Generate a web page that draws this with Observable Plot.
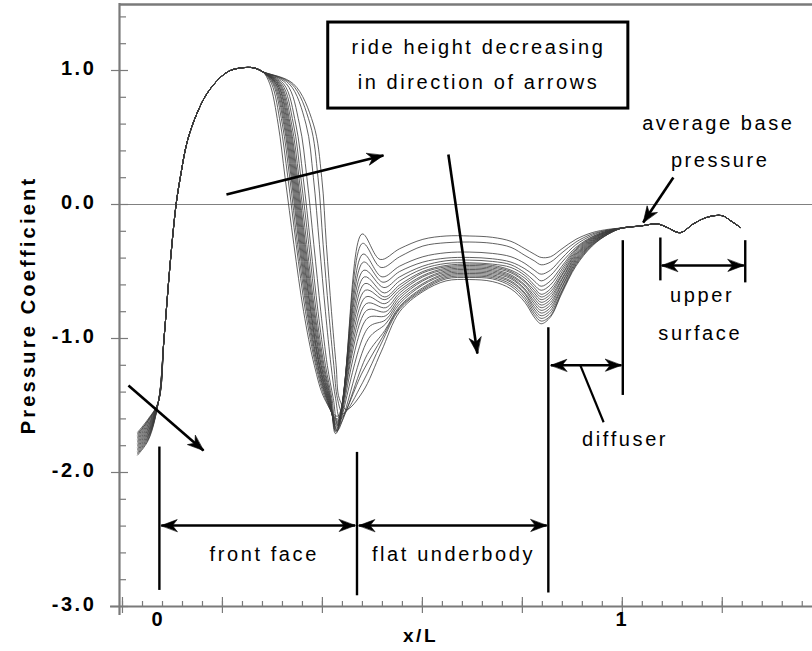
<!DOCTYPE html>
<html><head><meta charset="utf-8">
<script src="https://cdn.jsdelivr.net/npm/d3@7"></script>
<script src="https://cdn.jsdelivr.net/npm/@observablehq/plot@0.6"></script>
<style>html,body{margin:0;padding:0;background:#fff;overflow:hidden}</style>
</head><body><div id="chart"></div>
<script>
// ================= DATA =================
// 18 pressure distributions (ride height decreasing from id 1 to id 18)
const curveIds = [1,2,3,4,5,6,7,8,9,10,11,12,13,14,15,16,17,18];

// leading part of each curve (x/L)
const startX = [-0.045, -0.022];
const startCp = [
  [-1.70,-1.60],[-1.71,-1.61],[-1.72,-1.61],[-1.73,-1.62],[-1.74,-1.63],[-1.75,-1.64],
  [-1.76,-1.65],[-1.77,-1.66],[-1.78,-1.67],[-1.79,-1.68],[-1.80,-1.69],[-1.81,-1.70],
  [-1.82,-1.71],[-1.83,-1.72],[-1.84,-1.73],[-1.85,-1.74],[-1.86,-1.75],[-1.87,-1.76]
];

// front face (common to all ride heights)
const frontX  = [0.0, 0.012, 0.025, 0.038, 0.047, 0.062, 0.083, 0.105, 0.134, 0.155, 0.18, 0.205, 0.225];
const frontCp = [-1.47, -1.0, -0.45, 0.0, 0.2, 0.47, 0.68, 0.83, 0.95, 1.0, 1.02, 1.02, 0.99];

// descent of the front face: x/L at which each curve passes these Cp levels
const descentLevels = [0.9, 0.6, 0.2, -0.3, -0.8, -1.2, -1.45];
const descentX = [
  [0.240,0.258,0.273,0.292,0.313,0.336,0.358],
  [0.244,0.263,0.279,0.297,0.317,0.339,0.360],
  [0.247,0.267,0.283,0.300,0.320,0.341,0.362],
  [0.249,0.270,0.286,0.303,0.322,0.343,0.363],
  [0.251,0.272,0.288,0.305,0.324,0.344,0.364],
  [0.253,0.274,0.290,0.307,0.326,0.346,0.365],
  [0.254,0.276,0.292,0.309,0.328,0.347,0.366],
  [0.256,0.278,0.294,0.311,0.329,0.348,0.367],
  [0.257,0.280,0.296,0.313,0.331,0.350,0.368],
  [0.259,0.282,0.298,0.315,0.333,0.351,0.369],
  [0.261,0.284,0.300,0.317,0.335,0.353,0.370],
  [0.263,0.287,0.303,0.320,0.337,0.355,0.371],
  [0.266,0.291,0.307,0.324,0.340,0.357,0.372],
  [0.270,0.296,0.312,0.328,0.344,0.360,0.374],
  [0.276,0.304,0.320,0.335,0.350,0.364,0.377],
  [0.282,0.318,0.334,0.347,0.360,0.372,0.382],
  [0.287,0.327,0.344,0.355,0.367,0.378,0.386],
  [0.291,0.334,0.352,0.362,0.373,0.383,0.390]
];

// suction peak, bump and dip: [xMin, CpMin, xBump, CpBump, xDip, CpDip]
const troughBump = [
  [0.386,-1.58, 0.439,-0.22, 0.478,-0.41],
  [0.386,-1.60, 0.440,-0.29, 0.480,-0.47],
  [0.386,-1.61, 0.441,-0.37, 0.482,-0.54],
  [0.386,-1.62, 0.442,-0.43, 0.484,-0.58],
  [0.385,-1.63, 0.443,-0.49, 0.486,-0.62],
  [0.385,-1.64, 0.444,-0.54, 0.487,-0.66],
  [0.385,-1.65, 0.445,-0.59, 0.488,-0.69],
  [0.384,-1.66, 0.446,-0.64, 0.488,-0.71],
  [0.384,-1.67, 0.447,-0.69, 0.488,-0.74],
  [0.384,-1.68, 0.448,-0.74, 0.490,-0.77],
  [0.383,-1.69, 0.449,-0.79, 0.490,-0.80],
  [0.383,-1.70, 0.450,-0.85, 0.490,-0.83],
  [0.382,-1.71, 0.452,-0.92, 0.490,-0.86],
  [0.385,-1.69, 0.453,-1.00, 0.490,-0.89],
  [0.388,-1.65, 0.450,-1.12, 0.488,-0.94],
  [0.392,-1.60, 0.440,-1.25, 0.483,-0.99],
  [0.398,-1.56, 0.440,-1.33, 0.480,-1.04],
  [0.405,-1.53, 0.440,-1.40, 0.480,-1.10]
];

// flat underbody and diffuser
const flatX = [0.52, 0.57, 0.62, 0.67, 0.72, 0.76, 0.79, 0.81, 0.825, 0.845, 0.87, 0.90, 0.935, 0.97];
const flatCp = [
  [-0.33,-0.26,-0.235,-0.235,-0.245,-0.275,-0.33,-0.37,-0.395,-0.39,-0.33,-0.26,-0.21,-0.185],
  [-0.39,-0.31,-0.285,-0.28,-0.29,-0.32,-0.38,-0.42,-0.45,-0.43,-0.36,-0.28,-0.22,-0.19],
  [-0.46,-0.39,-0.36,-0.355,-0.365,-0.39,-0.44,-0.49,-0.52,-0.49,-0.40,-0.30,-0.23,-0.19],
  [-0.50,-0.43,-0.40,-0.395,-0.405,-0.43,-0.48,-0.53,-0.57,-0.53,-0.43,-0.32,-0.24,-0.195],
  [-0.54,-0.46,-0.42,-0.415,-0.425,-0.45,-0.51,-0.57,-0.61,-0.57,-0.46,-0.33,-0.245,-0.195],
  [-0.57,-0.48,-0.44,-0.435,-0.445,-0.47,-0.53,-0.60,-0.64,-0.60,-0.48,-0.34,-0.25,-0.20],
  [-0.60,-0.50,-0.455,-0.445,-0.455,-0.49,-0.55,-0.62,-0.67,-0.63,-0.50,-0.35,-0.255,-0.20],
  [-0.62,-0.51,-0.465,-0.455,-0.465,-0.50,-0.57,-0.64,-0.69,-0.65,-0.52,-0.36,-0.26,-0.20],
  [-0.64,-0.53,-0.475,-0.465,-0.475,-0.51,-0.58,-0.66,-0.71,-0.67,-0.53,-0.37,-0.265,-0.205],
  [-0.66,-0.54,-0.485,-0.475,-0.485,-0.525,-0.60,-0.68,-0.73,-0.69,-0.55,-0.38,-0.27,-0.205],
  [-0.68,-0.56,-0.495,-0.485,-0.495,-0.535,-0.61,-0.70,-0.75,-0.71,-0.56,-0.39,-0.275,-0.21],
  [-0.70,-0.57,-0.505,-0.495,-0.505,-0.545,-0.63,-0.72,-0.77,-0.73,-0.58,-0.40,-0.28,-0.21],
  [-0.72,-0.59,-0.515,-0.505,-0.515,-0.555,-0.64,-0.74,-0.79,-0.75,-0.59,-0.41,-0.285,-0.21],
  [-0.74,-0.60,-0.525,-0.515,-0.525,-0.57,-0.66,-0.76,-0.81,-0.77,-0.61,-0.42,-0.29,-0.215],
  [-0.76,-0.62,-0.535,-0.525,-0.535,-0.58,-0.67,-0.78,-0.83,-0.79,-0.62,-0.43,-0.295,-0.215],
  [-0.77,-0.63,-0.545,-0.535,-0.545,-0.595,-0.69,-0.80,-0.85,-0.81,-0.64,-0.44,-0.30,-0.22],
  [-0.78,-0.64,-0.555,-0.545,-0.555,-0.61,-0.71,-0.82,-0.87,-0.83,-0.65,-0.45,-0.305,-0.22],
  [-0.80,-0.65,-0.57,-0.56,-0.575,-0.63,-0.73,-0.84,-0.89,-0.84,-0.66,-0.46,-0.31,-0.22]
];

// base and upper surface (common)
const tailX  = [1.0, 1.04, 1.075, 1.096, 1.125, 1.153, 1.183, 1.215, 1.233, 1.254];
const tailCp = [-0.175, -0.16, -0.145, -0.17, -0.21, -0.145, -0.095, -0.083, -0.12, -0.17];

// axis ticks
const yMajorTicks = [-3, -2, -1, 0, 1];
const yTickLabels = ["-3.0", "-2.0", "-1.0", "0.0", "1.0"];
const yMinorTicks = [-2.8,-2.6,-2.4,-2.2,-1.8,-1.6,-1.4,-1.2,-0.8,-0.6,-0.4,-0.2,0.2,0.4,0.6,0.8,1.2,1.4];
const xMajorTicks = [-0.0776, 0.1379, 0.3534, 0.569, 0.7845, 1.0, 1.2155];
const xLabelValues = [0, 1];
const xTickLabels = ["0", "1"];

// annotations (in x/L, Cp units)
const noteBox = [{x1: 0.366, x2: 1.013, y1: 1.358, y2: 0.716}];
const noteTexts = [
  {x: 0.690, y: 1.172, text: "ride height decreasing"},
  {x: 0.690, y: 0.910, text: "in direction of arrows"},
  {x: 0.228, y: -2.612, text: "front face"},
  {x: 0.636, y: -2.612, text: "flat underbody"},
  {x: 1.006, y: -1.754, text: "diffuser"},
  {x: 1.172, y: -0.679, text: "upper"},
  {x: 1.168, y: -0.963, text: "surface"},
  {x: 1.207, y: 0.604, text: "average base"},
  {x: 1.211, y: 0.328, text: "pressure"}
];
const dimBars = [
  {x: 0.002, y1: -1.81, y2: -2.88},
  {x: 0.428, y1: -1.85, y2: -2.92},
  {x: 0.8405, y1: -0.92, y2: -2.90},
  {x: 1.001, y1: -0.27, y2: -1.425},
  {x: 1.082, y1: -0.25, y2: -0.57},
  {x: 1.265, y1: -0.27, y2: -0.585}
];
const dimArrows = [
  {x1: 0.006, y1: -2.396, x2: 0.424, y2: -2.396},
  {x1: 0.432, y1: -2.396, x2: 0.837, y2: -2.396},
  {x1: 0.846, y1: -1.20, x2: 0.998, y2: -1.20},
  {x1: 1.085, y1: -0.455, x2: 1.262, y2: -0.455}
];
const pointerLines = [{x1: 0.9095, y1: -1.20, x2: 0.9597, y2: -1.625}];
const arrows = [
  {x1: -0.0647, y1: -1.351, x2: 0.097, y2: -1.836},
  {x1: 0.1466, y1: 0.0746, x2: 0.485, y2: 0.366},
  {x1: 0.625, y1: 0.373, x2: 0.6875, y2: -1.112},
  {x1: 1.110, y1: 0.2015, x2: 1.045, y2: -0.134}
];

// ================= LAYOUT =================
const W = 812, H = 651, mL = 119, mR = 0, mT = 3, mB = 45;
const xDomain = [-0.084, 1.41], yDomain = [-3, 1.5];
const kx = (W - mL - mR) / (xDomain[1] - xDomain[0]);
const ky = (H - mT - mB) / (yDomain[1] - yDomain[0]);
const angle = (x1, y1, x2, y2) => Math.atan2((x2 - x1) * kx, (y2 - y1) * ky) * 180 / Math.PI;

const xMinorTicks = d3.range(-25, 10).map(k => 1 + k * 0.0431).filter(v => v > xDomain[0] && v < xDomain[1]);

// build curve table
const rows = [];
curveIds.forEach((id, i) => {
  const pts = [];
  startX.forEach((x, j) => pts.push([x, startCp[i][j]]));
  frontX.forEach((x, j) => pts.push([x, frontCp[j]]));
  descentLevels.forEach((cp, j) => pts.push([descentX[i][j], cp]));
  const t = troughBump[i];
  pts.push([t[0], t[1]], [t[2], t[3]], [t[4], t[5]]);
  flatX.forEach((x, j) => pts.push([x, flatCp[i][j]]));
  tailX.forEach((x, j) => pts.push([x, tailCp[j]]));
  pts.forEach(([x, cp]) => rows.push({id, x, cp}));
});

// arrow heads
const heads = [];
arrows.forEach(a => heads.push({x: a.x2, y: a.y2, rotate: angle(a.x1, a.y1, a.x2, a.y2)}));
dimArrows.forEach(a => {
  heads.push({x: a.x2, y: a.y2, rotate: angle(a.x1, a.y1, a.x2, a.y2)});
  heads.push({x: a.x1, y: a.y1, rotate: angle(a.x2, a.y2, a.x1, a.y1)});
});
const headShape = {
  draw(ctx, l, r) {
    ctx.moveTo(0, -l);
    ctx.lineTo(r, 0);
    ctx.lineTo(0, -l * 0.3);
    ctx.lineTo(-r, 0);
    ctx.closePath();
  }
};

const gray = "#7a7a7a";
const plot = Plot.plot({
  width: W, height: H,
  marginLeft: mL, marginRight: mR, marginTop: mT, marginBottom: mB,
  x: {domain: xDomain, axis: null},
  y: {domain: yDomain, axis: null},
  style: {fontFamily: "'Liberation Sans', Arial, sans-serif", background: "white", color: "black", letterSpacing: "2.6px", overflow: "visible"},
  marks: [
    // zero line
    Plot.ruleY([0], {x1: xDomain[0], x2: xDomain[1], stroke: "#808080", strokeWidth: 1}),
    // frame
    Plot.ruleX([xDomain[0]], {y1: -3 - 9 / ky, y2: 1.5, stroke: gray, strokeWidth: 2.2}),
    Plot.ruleY([1.5 - 1 / ky], {x1: xDomain[0], x2: xDomain[1], stroke: gray, strokeWidth: 2.5}),
    Plot.ruleY([-3], {x1: xDomain[0] - 9 / kx, x2: xDomain[1], stroke: gray, strokeWidth: 2.2}),
    // ticks
    Plot.ruleY(yMajorTicks, {x1: xDomain[0] - 8 / kx, x2: xDomain[0] + 9 / kx, stroke: gray, strokeWidth: 1.2}),
    Plot.ruleY(yMinorTicks, {x1: xDomain[0], x2: xDomain[0] + 7 / kx, stroke: gray, strokeWidth: 1.2}),
    Plot.ruleX(xMinorTicks, {y1: -3, y2: -3 + 5 / ky, stroke: gray, strokeWidth: 1.2}),
    Plot.ruleX(xMajorTicks, {y1: -3 - 7 / ky, y2: -3 + 9 / ky, stroke: gray, strokeWidth: 1.2}),
    // tick labels
    Plot.text(yMajorTicks, {y: d => d, text: (d, i) => yTickLabels[i], frameAnchor: "left", textAnchor: "end", dx: -23, dy: -2, fontSize: 20, fontWeight: "bold"}),
    Plot.text(xLabelValues, {x: d => d, text: (d, i) => xTickLabels[i], frameAnchor: "bottom", dy: 19, fontSize: 20, fontWeight: "bold"}),
    Plot.text(["x/L"], {x: () => 0.565, text: d => d, frameAnchor: "bottom", dy: 35, fontSize: 19, fontWeight: "bold"}),
    Plot.text(["Pressure Coefficient"], {text: d => d, frameAnchor: "left", textAnchor: "middle", dx: -91, rotate: -90, fontSize: 20, fontWeight: "bold"}),
    // pressure curves
    Plot.line(rows, {x: "x", y: "cp", z: "id", stroke: "#3a3a3a", strokeWidth: 0.8, curve: "catmull-rom"}),
    // annotation box
    Plot.rect(noteBox, {x1: "x1", x2: "x2", y1: "y1", y2: "y2", fill: "white", stroke: "black", strokeWidth: 3}),
    // dimension bars and arrows
    Plot.ruleX(dimBars, {x: "x", y1: "y1", y2: "y2", stroke: "black", strokeWidth: 2.4}),
    Plot.link(dimArrows, {x1: "x1", y1: "y1", x2: "x2", y2: "y2", stroke: "black", strokeWidth: 2.4, strokeLinecap: "butt"}),
    Plot.link(pointerLines, {x1: "x1", y1: "y1", x2: "x2", y2: "y2", stroke: "black", strokeWidth: 2.2}),
    Plot.link(arrows, {x1: "x1", y1: "y1", x2: "x2", y2: "y2", stroke: "black", strokeWidth: 2.6, strokeLinecap: "butt"}),
    Plot.vector(heads, {x: "x", y: "y", rotate: "rotate", length: 16, r: 6, anchor: "end", shape: headShape, fill: "black", stroke: "black", strokeWidth: 0.6}),
    // annotation texts
    Plot.text(noteTexts, {x: "x", y: "y", text: "text", fontSize: 20, fill: "black"})
  ]
});
d3.select(plot).selectAll("text").filter(function() { return this.textContent === "Pressure Coefficient"; }).style("letter-spacing", "3.2px");
document.getElementById("chart").appendChild(plot);
</script>
</body></html>
